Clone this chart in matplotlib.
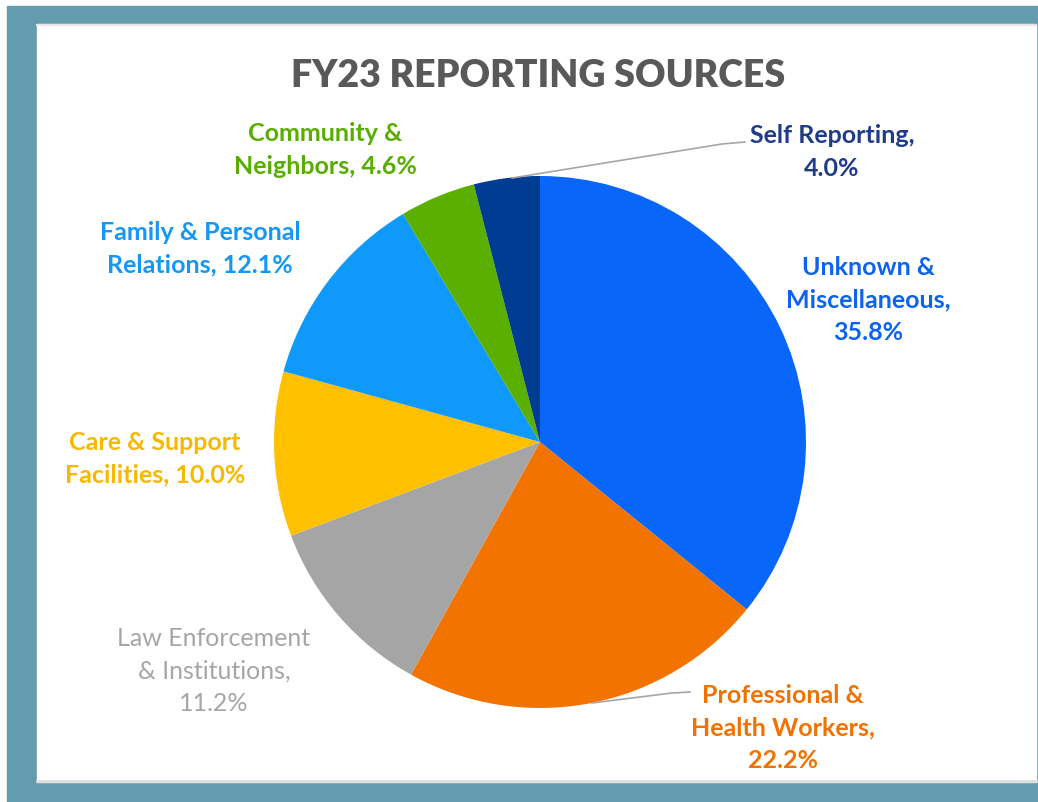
import numpy as np
import matplotlib.pyplot as plt
from matplotlib.patches import Rectangle

plt.rcParams['font.family'] = ['Lato', 'DejaVu Sans']

# data, clockwise from 12 o'clock
labels = ["Unknown &\nMiscellaneous,\n35.8%",
          "Professional &\nHealth Workers,\n22.2%",
          "Law Enforcement\n& Institutions,\n11.2%",
          "Care & Support\nFacilities, 10.0%",
          "Family & Personal\nRelations, 12.1%",
          "Community &\nNeighbors, 4.6%",
          "Self Reporting,\n4.0%"]
shares = [35.8, 22.2, 11.2, 10.0, 12.1, 4.6, 4.0]
colors = ["#0866FA", "#F27300", "#A5A5A5", "#FFC000", "#0E99FB", "#5BAF00", "#003C91"]
text_colors = ["#0B63F0", "#F07200", "#A6A6A6", "#F7B900", "#1497F5", "#58AE00", "#1F3B8A"]

W, H = 1038, 803
fig = plt.figure(figsize=(W / 100, H / 100), dpi=100)
ax = fig.add_axes([0, 0, 1, 1])

def Y(yp):
    # pixel row (from top) -> data y
    return H - yp

# frame
ax.add_patch(Rectangle((7, Y(803)), W - 7, 803 - 7, color="#639CAE", zorder=0))
ax.add_patch(Rectangle((37, Y(783)), 1036 - 37, 783 - 25, color="#FFFFFF", zorder=1))
ax.plot([37, 1036], [Y(782), Y(782)], color="#DDDDDD", lw=2, zorder=1)
ax.plot([37, 1036], [Y(26), Y(26)], color="#E6E6E6", lw=1.5, zorder=1)

cx, cy, r = 540, Y(443), 266
wedges, _ = ax.pie(shares, colors=colors, startangle=90, counterclock=False,
                   center=(cx, cy), radius=r, frame=True,
                   wedgeprops=dict(linewidth=0, zorder=3))
ax.set_xlim(0, W)
ax.set_ylim(0, H)
ax.set_aspect("equal")
ax.axis("off")

ax.text(538, Y(76), "FY23 REPORTING SOURCES", ha="center", va="center",
        fontsize=27, fontweight="heavy", color="#595959", zorder=5)

# label centres (pixels)
label_pos = [(868, 300), (783, 728), (214, 671), (155, 459), (200, 249), (325, 150), (832, 152)]
for i, lab in enumerate(labels):
    x, yp = label_pos[i]
    ax.text(x, Y(yp), lab, ha="center", va="center", fontsize=18,
            fontweight="normal" if i == 2 else "bold", color=text_colors[i],
            linespacing=1.5, zorder=5)

# leader lines
ax.plot([745, 722, 512], [Y(143), Y(145), Y(179)], color="#A6A6A6", lw=1.2, zorder=4)
ax.plot([690, 672, 592], [Y(693), Y(694), Y(704)], color="#A6A6A6", lw=1.2, zorder=4)

fig.savefig("out.png", dpi=100)
